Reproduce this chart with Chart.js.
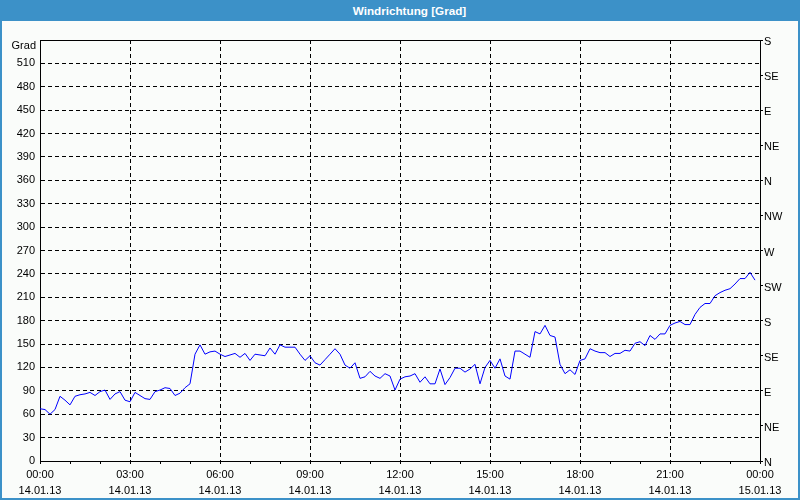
<!DOCTYPE html>
<html>
<head>
<meta charset="utf-8">
<script src="https://cdn.jsdelivr.net/npm/chart.js@4"></script>
<style>
    body { margin: 0; background: #fafcfa; }
    #wrap { position: relative; width: 800px; height: 500px; overflow: hidden; }
    #frame { position: absolute; left: 0; top: 0; width: 800px; height: 500px; box-sizing: border-box;
             border: 2px solid #3c91c8; border-top: none; pointer-events: none; }
    #titleBar { position: absolute; left: 0; top: 0; width: 800px; height: 21px; background: #3c91c8; box-sizing: border-box;
                padding-left: 19px; color: #fff; font: bold 11.7px 'Liberation Sans', sans-serif; text-align: center; line-height: 21px; }
    canvas { position: absolute; left: 0; top: 0; }
</style>
</head>
<body>
<div id="wrap">
    <canvas id="myChart" width="800" height="500"></canvas>
    <div id="titleBar">Windrichtung [Grad]</div>
    <div id="frame"></div>
</div>
<script>
// 10-minute readings, 14.01.13 00:00 .. 23:50
const stepMinutes = 10;
const windDirection = [
    67, 66, 60, 66, 83, 78, 72, 83, 85, 86, 88, 84,
    89, 91, 79, 86, 89, 78, 76, 88, 84, 80, 79, 89,
    91, 94, 93, 84, 87, 94, 99, 137, 149, 137, 140, 141,
    137, 134, 136, 138, 133, 138, 129, 137, 136, 135, 145, 137,
    149, 146, 146, 146, 137, 129, 135, 126, 123, 130, 137, 144,
    137, 123, 119, 126, 106, 108, 115, 109, 106, 112, 109, 91,
    105, 108, 109, 112, 101, 108, 99, 99, 118, 98, 107, 119,
    119, 114, 118, 124, 99, 120, 129, 119, 131, 109, 105, 141,
    141, 137, 133, 166, 163, 174, 161, 159, 124, 112, 117, 111,
    129, 131, 144, 141, 139, 139, 134, 138, 138, 142, 141, 151,
    153, 148, 161, 156, 163, 163, 174, 177, 179, 175, 175, 188,
    197, 202, 202, 212, 216, 219, 221, 227, 234, 234, 242, 232
];

const timeLabels = ['00:00', '03:00', '06:00', '09:00', '12:00', '15:00', '18:00', '21:00', '00:00'];
const dateLabels = ['14.01.13', '14.01.13', '14.01.13', '14.01.13', '14.01.13', '14.01.13', '14.01.13', '14.01.13', '15.01.13'];
const compassLabels = ['N', 'NE', 'E', 'SE', 'S', 'SW', 'W', 'NW', 'N', 'NE', 'E', 'SE', 'S'];

Chart.defaults.font.family = "'Liberation Sans', Arial, sans-serif";
Chart.defaults.font.size = 11;
Chart.defaults.color = '#000';

const points = windDirection.map((v, i) => ({ x: i * stepMinutes, y: v }));

// draws the top border of the plot and the "Grad" unit label
const framePlugin = {
    id: 'framePlugin',
    afterDraw(chart) {
        const { ctx, chartArea } = chart;
        ctx.save();
        ctx.strokeStyle = '#000';
        ctx.lineWidth = 1;
        ctx.beginPath();
        ctx.moveTo(chartArea.left, chartArea.top + 0.5);
        ctx.lineTo(chartArea.right + 1, chartArea.top + 0.5);
        ctx.stroke();
        ctx.font = "11px 'Liberation Sans', Arial, sans-serif";
        ctx.fillStyle = '#000';
        ctx.textAlign = 'right';
        ctx.textBaseline = 'middle';
        ctx.fillText('Grad', chartArea.left - 4, chartArea.top + 6);
        ctx.restore();
    }
};

const myChart = new Chart(document.getElementById('myChart').getContext('2d'), {
    type: 'line',
    data: {
        datasets: [{
            data: points,
            borderColor: '#0000ff',
            borderWidth: 1,
            pointRadius: 0,
            tension: 0,
            fill: false
        }]
    },
    options: {
        responsive: false,
        animation: false,
        layout: { padding: { top: 40, left: 0, right: 0, bottom: 0 } },
        plugins: {
            legend: { display: false },
            tooltip: { enabled: false }
        },
        scales: {
            x: {
                type: 'linear',
                min: 0,
                max: 1440,
                afterFit: s => { s.height = 39; },
                afterBuildTicks: s => {
                    s.ticks = [];
                    for (let m = 0; m <= 1440; m += 60) s.ticks.push({ value: m });
                },
                ticks: {
                    autoSkip: false,
                    maxRotation: 0,
                    padding: 3,
                    font: { lineHeight: 1.45 },
                    callback: v => (v % 180 === 0 ? [timeLabels[v / 180], dateLabels[v / 180]] : '')
                },
                grid: {
                    color: c => (c.tick && c.tick.value % 180 === 0 ? '#000' : 'rgba(0,0,0,0)'),
                    tickColor: '#000',
                    tickLength: 3,
                    lineWidth: 1
                },
                border: { color: '#000', dash: [4, 3] }
            },
            y: {
                position: 'left',
                min: 0,
                max: 540,
                afterFit: s => { s.width = 40; },
                ticks: {
                    stepSize: 30,
                    padding: 5,
                    callback: v => (v === 540 ? '' : v)
                },
                grid: { color: '#000', drawTicks: false, lineWidth: 1 },
                border: { color: '#000', dash: [4, 3] }
            },
            y2: {
                position: 'right',
                min: 0,
                max: 540,
                afterFit: s => { s.width = 40; },
                ticks: {
                    stepSize: 45,
                    padding: 1,
                    labelOffset: 2,
                    callback: v => compassLabels[Math.round(v / 45)]
                },
                grid: { drawOnChartArea: false, color: '#000', tickLength: 3 },
                border: { color: '#000' }
            }
        }
    },
    plugins: [framePlugin]
});
</script>
</body>
</html>
